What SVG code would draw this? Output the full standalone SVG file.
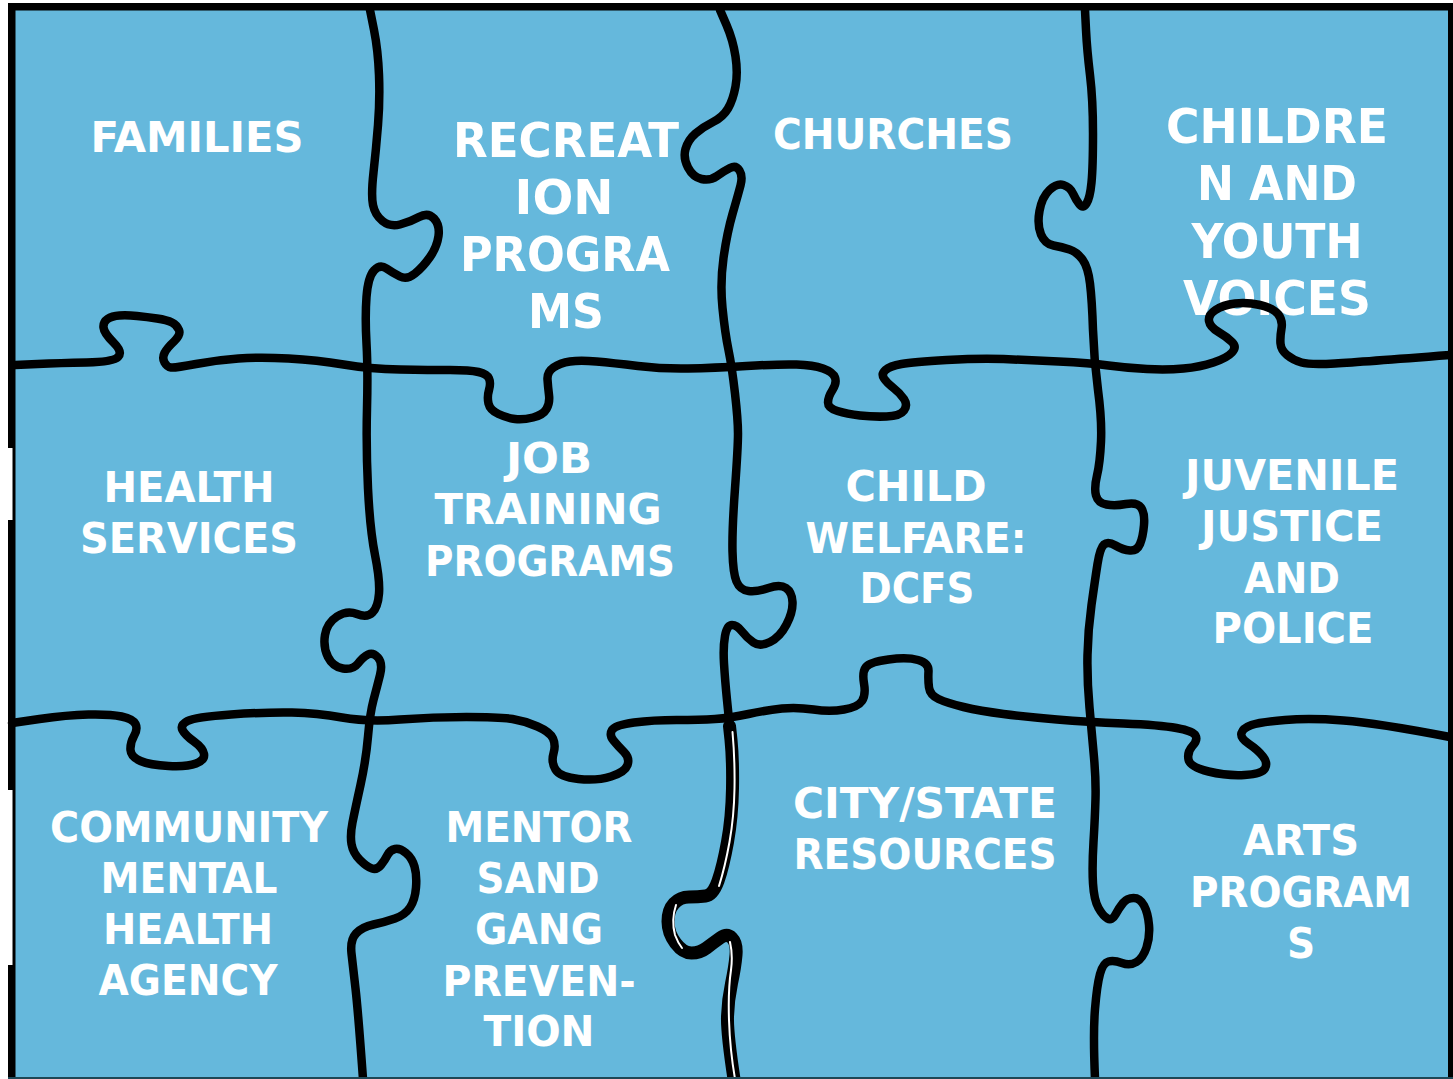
<svg xmlns="http://www.w3.org/2000/svg" width="1453" height="1079" viewBox="0 0 1453 1079">
<style>
.lbl{font-family:'DejaVu Sans Condensed','DejaVu Sans',Verdana,sans-serif;font-stretch:condensed;font-weight:bold;font-size:43.5px;fill:#ffffff;text-anchor:middle}
.big{font-size:48px}
.cut{fill:none;stroke:#000;stroke-width:8.5;stroke-linecap:round;stroke-linejoin:round}
.dbl{fill:none;stroke:#000;stroke-width:13;stroke-linecap:round;stroke-linejoin:round}
.dblw{fill:none;stroke:#fff;stroke-width:2;stroke-linecap:round}
</style>
<rect x="0" y="0" width="1453" height="1079" fill="#ffffff"/>
<rect x="8" y="3" width="1445" height="1076" fill="#65B8DC"/>

<g id="families"><text class="lbl" x="197" y="152" textLength="213" lengthAdjust="spacingAndGlyphs">FAMILIES</text></g>
<g id="recreation"><text class="lbl big" x="566" y="157" textLength="226" lengthAdjust="spacingAndGlyphs">RECREAT</text><text class="lbl big" x="564" y="214" textLength="99" lengthAdjust="spacingAndGlyphs">ION</text><text class="lbl big" x="565" y="271" textLength="210" lengthAdjust="spacingAndGlyphs">PROGRA</text><text class="lbl big" x="566" y="328" textLength="76" lengthAdjust="spacingAndGlyphs">MS</text></g>
<g id="churches"><text class="lbl" x="893" y="149" textLength="240" lengthAdjust="spacingAndGlyphs">CHURCHES</text></g>
<g id="children"><text class="lbl big" x="1277" y="143" textLength="222" lengthAdjust="spacingAndGlyphs">CHILDRE</text><text class="lbl big" x="1277" y="200" textLength="160" lengthAdjust="spacingAndGlyphs">N AND</text><text class="lbl big" x="1277" y="258" textLength="171" lengthAdjust="spacingAndGlyphs">YOUTH</text><text class="lbl big" x="1277" y="315" textLength="188" lengthAdjust="spacingAndGlyphs">VOICES</text></g>
<g id="health"><text class="lbl" x="189" y="502" textLength="171" lengthAdjust="spacingAndGlyphs">HEALTH</text><text class="lbl" x="189" y="553" textLength="218" lengthAdjust="spacingAndGlyphs">SERVICES</text></g>
<g id="job"><text class="lbl" x="549" y="473" textLength="86" lengthAdjust="spacingAndGlyphs">JOB</text><text class="lbl" x="548" y="524" textLength="227" lengthAdjust="spacingAndGlyphs">TRAINING</text><text class="lbl" x="550" y="576" textLength="250" lengthAdjust="spacingAndGlyphs">PROGRAMS</text></g>
<g id="childwelfare"><text class="lbl" x="916" y="501" textLength="141" lengthAdjust="spacingAndGlyphs">CHILD</text><text class="lbl" x="916" y="553" textLength="221" lengthAdjust="spacingAndGlyphs">WELFARE:</text><text class="lbl" x="917" y="603" textLength="115" lengthAdjust="spacingAndGlyphs">DCFS</text></g>
<g id="juvenile"><text class="lbl" x="1292" y="490" textLength="214" lengthAdjust="spacingAndGlyphs">JUVENILE</text><text class="lbl" x="1292" y="541" textLength="182" lengthAdjust="spacingAndGlyphs">JUSTICE</text><text class="lbl" x="1292" y="593" textLength="96" lengthAdjust="spacingAndGlyphs">AND</text><text class="lbl" x="1293" y="643" textLength="161" lengthAdjust="spacingAndGlyphs">POLICE</text></g>
<g id="community"><text class="lbl" x="189" y="842" textLength="278" lengthAdjust="spacingAndGlyphs">COMMUNITY</text><text class="lbl" x="189" y="893" textLength="177" lengthAdjust="spacingAndGlyphs">MENTAL</text><text class="lbl" x="188" y="944" textLength="170" lengthAdjust="spacingAndGlyphs">HEALTH</text><text class="lbl" x="188" y="995" textLength="179" lengthAdjust="spacingAndGlyphs">AGENCY</text></g>
<g id="mentors"><text class="lbl" x="539" y="842" textLength="187" lengthAdjust="spacingAndGlyphs">MENTOR</text><text class="lbl" x="538" y="893" textLength="123" lengthAdjust="spacingAndGlyphs">SAND</text><text class="lbl" x="539" y="944" textLength="128" lengthAdjust="spacingAndGlyphs">GANG</text><text class="lbl" x="539" y="996" textLength="193" lengthAdjust="spacingAndGlyphs">PREVEN-</text><text class="lbl" x="539" y="1046" textLength="111" lengthAdjust="spacingAndGlyphs">TION</text></g>
<g id="city"><text class="lbl" x="925" y="818" textLength="264" lengthAdjust="spacingAndGlyphs">CITY/STATE</text><text class="lbl" x="925" y="869" textLength="263" lengthAdjust="spacingAndGlyphs">RESOURCES</text></g>
<g id="arts"><text class="lbl" x="1301" y="855" textLength="116" lengthAdjust="spacingAndGlyphs">ARTS</text><text class="lbl" x="1301" y="907" textLength="222" lengthAdjust="spacingAndGlyphs">PROGRAM</text><text class="lbl" x="1301" y="958">S</text></g>

<g id="connectors">
<path class="cut" d="M 15 365 L 37.5 364 Q 60 363 86.5 362.5 Q 113 362 118 357 Q 123 352 113.5 342.5 Q 104 333 103.5 327.5 Q 103 322 107.5 319 Q 112 316 119.5 315.5 Q 127 315 137 316 Q 147 317 157 318.5 Q 167 320 172 322.5 Q 177 325 179 330 Q 181 335 174 341.5 Q 167 348 164.5 353 Q 162 358 164.5 362.5 Q 167 367 171 367.5 Q 175 368 196 364 Q 217 360 238.5 358.5 Q 260 357 288.5 358.5 Q 317 360 343.5 364.5 Q 370 369 400 369.5 Q 430 370 450 370 Q 470 370 478.5 372 Q 487 374 489 378.5 Q 491 383 489 390 Q 487 397 488.5 403.5 Q 490 410 498.5 414 Q 507 418 515 419 Q 523 420 533 417.5 Q 543 415 546.5 409 Q 550 403 549 395 Q 548 387 547.5 379.5 Q 547 372 553.5 367.5 Q 560 363 570 361.5 Q 580 360 596.5 361.5 Q 613 363 638 366 Q 663 369 688 368.5 Q 713 368 746.5 366 Q 780 364 796.5 364.5 Q 813 365 823 368.5 Q 833 372 835 377.5 Q 837 383 832.5 390 Q 828 397 828 402.5 Q 828 408 837.5 411 Q 847 414 860 415.5 Q 873 417 886.5 416.5 Q 900 416 904 410.5 Q 908 405 904 399 Q 900 393 893.5 388 Q 887 383 884 378.5 Q 881 374 885.5 370 Q 890 366 901.5 364 Q 913 362 946.5 360 Q 980 358 1003.5 359 Q 1027 360 1058.5 361.5 Q 1090 363 1108.5 365.5 Q 1127 368 1147 369 Q 1167 370 1183.5 368.5 Q 1200 367 1213.5 362.5 Q 1227 358 1232 352.5 Q 1237 347 1232 342 Q 1227 337 1218.5 332 Q 1210 327 1209 321 Q 1208 315 1215.5 310 Q 1223 305 1235 303.5 Q 1247 302 1260 305 Q 1273 308 1278 314 Q 1283 320 1281.5 328.5 Q 1280 337 1280.5 343.5 Q 1281 350 1287 355 Q 1293 360 1301.5 362.5 Q 1310 365 1335 363.5 Q 1360 362 1450 355"/>
<path class="cut" d="M 12 723 L 39.5 719 Q 67 715 88.5 714.5 Q 110 714 121.5 716.5 Q 133 719 135.5 724 Q 138 729 134 736 Q 130 743 130.5 750 Q 131 757 140.5 761 Q 150 765 168.5 766 Q 187 767 196 763.5 Q 205 760 204 754 Q 203 748 194 741.5 Q 185 735 182.5 730 Q 180 725 187.5 721 Q 195 717 231 714.5 Q 267 712 292 712.5 Q 317 713 342 717.5 Q 367 722 400 719.5 Q 433 717 466.5 717 Q 500 717 512.5 719 Q 525 721 537.5 726.5 Q 550 732 553 738.5 Q 556 745 553.5 753.5 Q 551 762 555.5 769.5 Q 560 777 578.5 779 Q 597 781 611 776.5 Q 625 772 627.5 765 Q 630 758 624 752 Q 618 746 613.5 740.5 Q 609 735 612 730 Q 615 725 634 722.5 Q 653 720 676.5 720 Q 700 720 715 719 Q 730 718 748.5 714 Q 767 710 782 708.5 Q 797 707 813.5 709.5 Q 830 712 844 709.5 Q 858 707 862 701 Q 866 695 864 683.5 Q 862 672 866 667 Q 870 662 888.5 659.5 Q 907 657 918 660 Q 929 663 928.5 671.5 Q 928 680 929 687.5 Q 930 695 938.5 699 Q 947 703 963.5 707 Q 980 711 1003.5 714 Q 1027 717 1057 719.5 Q 1087 722 1123.5 723.5 Q 1160 725 1176.5 728 Q 1193 731 1195.5 735.5 Q 1198 740 1192.5 746 Q 1187 752 1188.5 759.5 Q 1190 767 1208.5 771.5 Q 1227 776 1244.5 775 Q 1262 774 1265 768.5 Q 1268 763 1263 756.5 Q 1258 750 1249 744 Q 1240 738 1241.5 733 Q 1243 728 1251.5 725 Q 1260 722 1285 720 Q 1310 718 1343.5 720.5 Q 1377 723 1450 737"/>
<path class="cut" d="M 370 10 L 374 30 Q 378 50 379 75 Q 380 100 378 125 Q 376 150 373.5 172.5 Q 371 195 373 205 Q 375 215 382.5 221 Q 390 227 400 224.5 Q 410 222 419 217 Q 428 212 434 218.5 Q 440 225 438.5 236 Q 437 247 430 257 Q 423 267 415 273.5 Q 407 280 400 276.5 Q 393 273 386.5 268.5 Q 380 264 374 270.5 Q 368 277 366.5 297 Q 365 317 366.5 343.5 Q 368 370 367 408.5 Q 366 447 368 488.5 Q 370 530 375 555 Q 380 580 379 593.5 Q 378 607 372.5 612.5 Q 367 618 357 614 Q 347 610 337 616.5 Q 327 623 325 635 Q 323 647 328 657 Q 333 667 343 668.5 Q 353 670 358 663.5 Q 363 657 368 654.5 Q 373 652 378 657.5 Q 383 663 380 675 Q 377 687 373.5 700 Q 370 713 368 736.5 Q 366 760 360.5 785 Q 355 810 352.5 822.5 Q 350 835 351.5 844 Q 353 853 360 860 Q 367 867 372 868.5 Q 377 870 381 865 Q 385 860 387.5 855 Q 390 850 395 849 Q 400 848 406 853 Q 412 858 414.5 866.5 Q 417 875 416 887.5 Q 415 900 410 907.5 Q 405 915 395 918.5 Q 385 922 373.5 924.5 Q 362 927 356 933.5 Q 350 940 351.5 953.5 Q 353 967 355.5 988.5 Q 358 1010 363 1079"/>
<path class="cut" d="M 720 10 L 726.5 25 Q 733 40 735.5 56.5 Q 738 73 735.5 86.5 Q 733 100 728 108.5 Q 723 117 713 122 Q 703 127 695.5 133.5 Q 688 140 685.5 149 Q 683 158 688 167.5 Q 693 177 701.5 179 Q 710 181 717 176 Q 724 171 730 168 Q 736 165 739.5 170.5 Q 743 176 740.5 185.5 Q 738 195 732.5 214 Q 727 233 723.5 258 Q 720 283 722.5 308 Q 725 333 728.5 350 Q 732 367 735 393.5 Q 738 420 738 433.5 Q 738 447 735 488.5 Q 732 530 732.5 551.5 Q 733 573 736.5 581.5 Q 740 590 748.5 591 Q 757 592 768.5 588 Q 780 584 786 588 Q 792 592 792.5 602 Q 793 612 786.5 624.5 Q 780 637 770 642 Q 760 647 753.5 642.5 Q 747 638 742 631.5 Q 737 625 732 625 Q 727 625 725 636 Q 723 647 724 663.5 Q 725 680 727 700 Q 729 720 731 740"/>
<path class="dbl" d="M 729.5 726 L 731 740 Q 733 760 732.5 788.5 Q 732 817 727.5 842 Q 723 867 718 881 Q 713 895 705.5 896 Q 698 897 689 897 Q 680 897 674 903.5 Q 668 910 668 921.5 Q 668 933 675.5 943 Q 683 953 691.5 953 Q 700 953 706.5 948 Q 713 943 720 938 Q 727 933 732 938 Q 737 943 736 955 Q 735 967 731.5 983.5 Q 728 1000 727.5 1016.5 Q 727 1033 734 1079"/>
<path class="dblw" d="M 732.5 732 Q 735 760 734.5 788.5 Q 734 817 729.5 842 Q 725 867 719 886"/>
<path class="dblw" d="M 676 905 Q 671 920 675 935 Q 678 943 682 948"/>
<path class="dblw" d="M 730 942 Q 733 955 731 970 Q 728 990 729 1020 Q 730 1050 735 1079"/>
<path class="cut" d="M 1085 10 L 1086 30 Q 1087 50 1090 75 Q 1093 100 1093 133.5 Q 1093 167 1091.5 182.5 Q 1090 198 1086.5 203.5 Q 1083 209 1079.5 204.5 Q 1076 200 1073 193.5 Q 1070 187 1063.5 185 Q 1057 183 1049.5 190 Q 1042 197 1039.5 211 Q 1037 225 1041 234.5 Q 1045 244 1053.5 245.5 Q 1062 247 1069.5 249.5 Q 1077 252 1082.5 259.5 Q 1088 267 1090 283.5 Q 1092 300 1093 330 Q 1094 360 1098 390 Q 1102 420 1101 441.5 Q 1100 463 1097 475.5 Q 1094 488 1096 495.5 Q 1098 503 1106.5 504.5 Q 1115 506 1126 504 Q 1137 502 1141 507.5 Q 1145 513 1144 525 Q 1143 537 1140 544 Q 1137 551 1130 550.5 Q 1123 550 1115.5 545.5 Q 1108 541 1104 544.5 Q 1100 548 1097.5 564 Q 1095 580 1091.5 605 Q 1088 630 1087.5 655 Q 1087 680 1089.5 707.5 Q 1092 735 1094 757.5 Q 1096 780 1095.5 798.5 Q 1095 817 1093.5 842 Q 1092 867 1093 883.5 Q 1094 900 1098.5 908 Q 1103 916 1107.5 918.5 Q 1112 921 1115.5 914.5 Q 1119 908 1123 903 Q 1127 898 1133.5 898 Q 1140 898 1144 905.5 Q 1148 913 1149 925 Q 1150 937 1146.5 947.5 Q 1143 958 1136.5 962 Q 1130 966 1122 963 Q 1114 960 1108.5 961.5 Q 1103 963 1100 974 Q 1097 985 1095 1009 Q 1093 1033 1095 1079"/>
</g>

<g id="frame">
<rect x="8" y="3" width="1445" height="7.5" fill="#000"/>
<rect x="8" y="3" width="7.5" height="1076" fill="#000"/>
<rect x="1448" y="3" width="5" height="1076" fill="#000"/>
<rect x="8" y="1077" width="1445" height="2" fill="#1d4756"/>
<rect x="8" y="448" width="4.5" height="72" fill="#fff"/>
<rect x="8" y="790" width="4.5" height="175" fill="#fff"/>
</g>
</svg>
